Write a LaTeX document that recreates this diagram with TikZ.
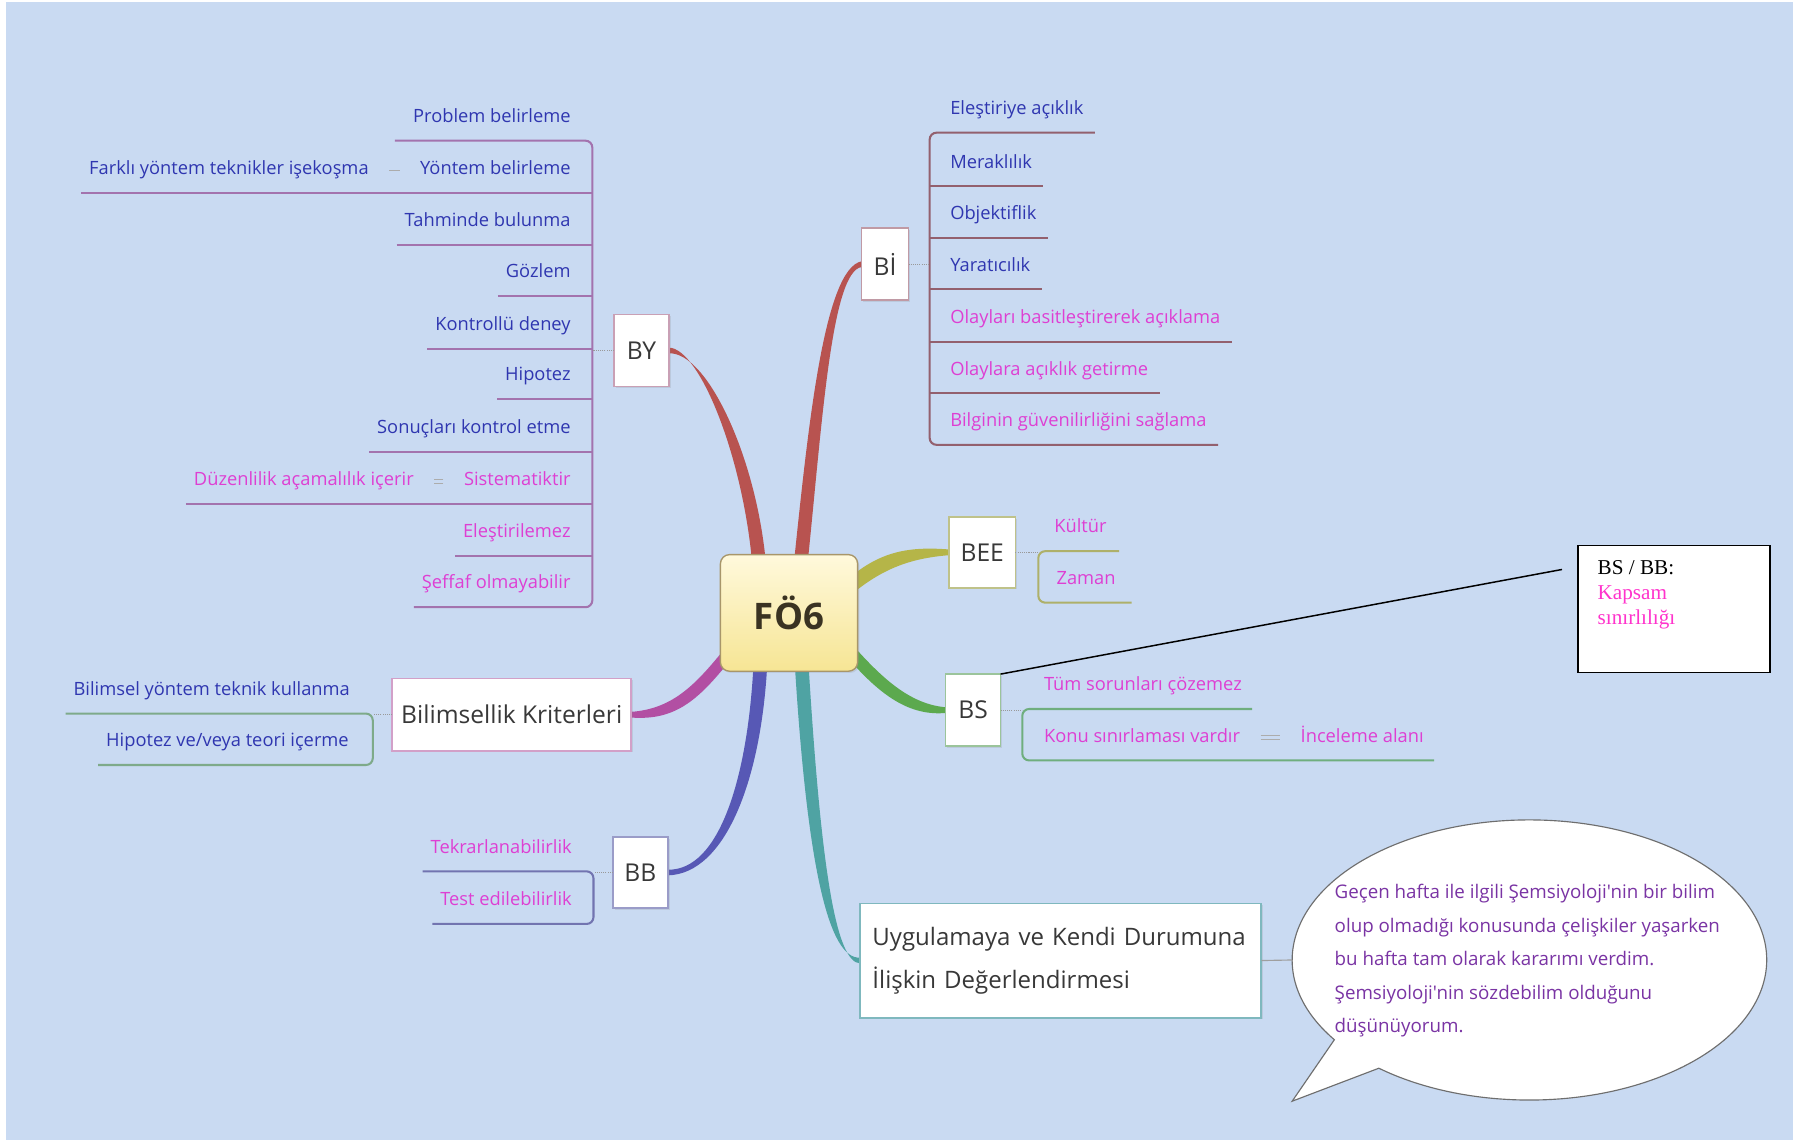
\documentclass[tikz,border=0pt]{standalone}
\usepackage{fontspec}
\usetikzlibrary{calc,shadows}
\newfontfamily\mmfont{Open Sans}
\newfontfamily\serifnote{Liberation Serif}

\definecolor{bgblue}{HTML}{C9DAF2}
\definecolor{tblue}{HTML}{2F36B0}
\definecolor{tmag}{HTML}{DE3FD3}
\definecolor{tpurp}{HTML}{7A34A4}
\definecolor{kmag}{HTML}{FF33CC}
\definecolor{tdark}{HTML}{383838}
% branch colours
\definecolor{limbRed}{HTML}{B85350}
\definecolor{limbOlive}{HTML}{B5B548}
\definecolor{limbGreen}{HTML}{5CA94E}
\definecolor{limbMag}{HTML}{B24FA3}
\definecolor{limbBlue}{HTML}{5758B5}
\definecolor{limbTeal}{HTML}{4FA3A3}
% underline colours
\definecolor{lnBY}{HTML}{A373AE}
\definecolor{lnBI}{HTML}{93606E}
\definecolor{lnBEE}{HTML}{AEB06A}
\definecolor{lnBS}{HTML}{6FAE7E}
\definecolor{lnBK}{HTML}{7EAA8A}
\definecolor{lnBB}{HTML}{7274B0}
% box borders
\definecolor{bxBY}{HTML}{C9A0B5}
\definecolor{bxBI}{HTML}{C09AA5}
\definecolor{bxBEE}{HTML}{BFC28A}
\definecolor{bxBS}{HTML}{9BC49B}
\definecolor{bxBK}{HTML}{D2A0C8}
\definecolor{bxBB}{HTML}{9A9CC8}
\definecolor{bxUY}{HTML}{7FB8BE}
\definecolor{foTop}{HTML}{FFF9DC}
\definecolor{foBot}{HTML}{F6E594}
\definecolor{foLine}{HTML}{A8966A}
\definecolor{foText}{HTML}{3A3322}
\definecolor{bubLine}{HTML}{6E6E6E}

\newcommand\leaffont{\mmfont\fontsize{16}{19}\selectfont}
\newcommand\topicfont{\mmfont\fontsize{21.5}{25}\selectfont}
\newcommand\uyfont{\mmfont\fontsize{21}{38}\selectfont}
\newcommand\fofont{\mmfont\bfseries\fontsize{32}{36}\selectfont}
\newcommand\bubfont{\mmfont\fontsize{16.4}{29.3}\selectfont}
\newcommand\notefont{\serifnote\fontsize{18.5}{22}\selectfont}

% tapered branch: colour, start, control 1, control 2, end, half width at start, half width at end
\newcommand\mmlimb[7]{%
  \fill[#1] ($(#2)+(#6)$) .. controls ($(#3)+(#6)$) and ($(#4)+0.5*(#6)+0.5*(#7)$) .. ($(#5)+(#7)$)
    -- ($(#5)-(#7)$) .. controls ($(#4)-0.5*(#6)-0.5*(#7)$) and ($(#3)-(#6)$) .. ($(#2)-(#6)$) -- cycle;}

\pgfdeclarelayer{canvasfill}
\pgfdeclarelayer{limbs}
\pgfsetlayers{canvasfill,limbs,main}

\tikzset{
  leafnode/.style={font=\leaffont, inner xsep=7pt, inner ysep=12.5pt,
    text height=11.5pt, text depth=3.5pt, outer sep=0pt},
  topicbox/.style={draw=#1, line width=1.4pt, fill=white, font=\topicfont,
    text=tdark, inner sep=0pt, outer sep=0pt,
    drop shadow={opacity=0.18, shadow xshift=1.5pt, shadow yshift=-1.5pt}},
  uline/.style={draw=#1, line width=1.8pt},
  dotlink/.style={draw=gray!80, line width=0.9pt, densely dotted},
  sibdash/.style={draw=gray!65, line width=0.8pt, shorten <=11pt, shorten >=11pt},
}

\begin{document}
\begin{tikzpicture}[x=1pt, y=-1pt]
\useasboundingbox (0,0) rectangle (1568,997);
\begin{pgfonlayer}{canvasfill}
\fill[white] (0,0) rectangle (1568,997);
\fill[bgblue] (5,2) rectangle (1568,997);
\end{pgfonlayer}

% ---------- topics ----------
\node[draw=foLine, line width=1.2pt, rounded corners=8pt, top color=foTop, bottom color=foBot,
      minimum width=120pt, minimum height=102pt, inner sep=0pt, outer sep=0pt,
      font=\fofont, text=foText,
      drop shadow={opacity=0.18, shadow xshift=1.5pt, shadow yshift=-1.5pt}] (fo) at (690,536) {FÖ6};
\node[topicbox=bxBY, minimum width=48pt, minimum height=63pt] (by) at (561,306.5) {BY};
\node[topicbox=bxBI, minimum width=41pt, minimum height=63pt] (bi) at (774,231) {Bİ};
\node[topicbox=bxBEE, minimum width=58pt, minimum height=62pt] (bee) at (859,483) {BEE};
\node[topicbox=bxBS, minimum width=48pt, minimum height=63pt] (bs) at (851,621) {BS};
\node[topicbox=bxBB, minimum width=48pt, minimum height=62pt] (bb) at (560,763) {BB};
\node[topicbox=bxBK, minimum width=209pt, minimum height=63pt] (bk) at (447.5,625) {Bilimsellik Kriterleri};
\node[topicbox=bxUY, minimum width=351pt, minimum height=100pt, text width=329pt,
      inner xsep=11pt, align=left, font=\uyfont] (uy) at (927.5,840)
      {Uygulamaya ve Kendi Durumuna\\İlişkin Değerlendirmesi};

% ---------- branches from the central topic (behind the boxes) ----------
\begin{pgfonlayer}{limbs}
\mmlimb{limbRed}{664,495}{656,400}{615,306}{by.east}{6,0}{0,2.5}
\mmlimb{limbRed}{700,495}{713,370}{724,236}{bi.west}{6,0}{0,2.5}
\mmlimb{limbOlive}{742,514}{770,490}{795,483}{bee.west}{0,8}{0,2.5}
\mmlimb{limbGreen}{742,568}{770,600}{795,621}{bs.west}{0,8}{0,2.5}
\mmlimb{limbMag}{638,570}{610,605}{590,625}{bk.east}{0,8}{0,2.5}
\mmlimb{limbBlue}{665,580}{660,680}{632,763}{bb.east}{6,0}{0,2.5}
\mmlimb{limbTeal}{701,580}{712,760}{728,840}{uy.west}{6,0}{0,2.5}
\end{pgfonlayer}

% ---------- BY ----------
\coordinate (byS) at (518,0);
\node[leafnode, text=tblue, anchor=south east] (y1) at (506,123) {Problem belirleme};
\node[leafnode, text=tblue, anchor=south east] (y2) at (506,169) {Yöntem belirleme};
\node[leafnode, text=tblue, anchor=east] (y2a) at ($(y2.west)+(-31,0)$) {Farklı yöntem teknikler işekoşma};
\node[leafnode, text=tblue, anchor=south east] (y3) at (506,214) {Tahminde bulunma};
\node[leafnode, text=tblue, anchor=south east] (y4) at (506,259) {Gözlem};
\node[leafnode, text=tblue, anchor=south east] (y5) at (506,305) {Kontrollü deney};
\node[leafnode, text=tblue, anchor=south east] (y6) at (506,349) {Hipotez};
\node[leafnode, text=tblue, anchor=south east] (y7) at (506,395) {Sonuçları kontrol etme};
\node[leafnode, text=tmag, anchor=south east] (y8) at (506,441) {Sistematiktir};
\node[leafnode, text=tmag, anchor=east] (y8a) at ($(y8.west)+(-30,0)$) {Düzenlilik açamalılık içerir};
\node[leafnode, text=tmag, anchor=south east] (y9) at (506,486) {Eleştirilemez};
\node[leafnode, text=tmag, anchor=south east] (y10) at (506,531) {Şeffaf olmayabilir};
\draw[uline=lnBY, rounded corners=6pt] ($(y1.south west)+(-9,0)$) -- (byS |- y1.south) -- (byS |- y10.south) -- (y10.south west);
\foreach \n in {y3,y4,y5,y6,y7,y9} \draw[uline=lnBY] (\n.south west) -- (byS |- \n.south);
\draw[uline=lnBY] (y2a.south west) -- (byS |- y2.south);
\draw[uline=lnBY] (y8a.south west) -- (byS |- y8.south);
\draw[dotlink] (by.west) -- (byS |- by.west);
\draw[sibdash] (y2.west) -- (y2a.east);
\draw[sibdash] ([yshift=1.5pt]y8.west) -- ([yshift=1.5pt]y8a.east);
\draw[sibdash] ([yshift=-1.5pt]y8.west) -- ([yshift=-1.5pt]y8a.east);

% ---------- BI ----------
\coordinate (biS) at (813,0);
\node[leafnode, text=tblue, anchor=south west] (i1) at (824,116) {Eleştiriye açıklık};
\node[leafnode, text=tblue, anchor=south west] (i2) at (824,163) {Meraklılık};
\node[leafnode, text=tblue, anchor=south west] (i3) at (824,208) {Objektiflik};
\node[leafnode, text=tblue, anchor=south west] (i4) at (824,253) {Yaratıcılık};
\node[leafnode, text=tmag, anchor=south west] (i5) at (824,299) {Olayları basitleştirerek açıklama};
\node[leafnode, text=tmag, anchor=south west] (i6) at (824,344) {Olaylara açıklık getirme};
\node[leafnode, text=tmag, anchor=south west] (i7) at (824,389) {Bilginin güvenilirliğini sağlama};
\draw[uline=lnBI, rounded corners=6pt] ($(i1.south east)+(3,0)$) -- (biS |- i1.south) -- (biS |- i7.south) -- ($(i7.south east)+(3,0)$);
\foreach \n in {i2,i3,i4,i5,i6} \draw[uline=lnBI] (biS |- \n.south) -- ($(\n.south east)+(3,0)$);
\draw[dotlink] (bi.east) -- (biS |- bi.east);

% ---------- BEE ----------
\coordinate (beeS) at (908,0);
\node[leafnode, text=tmag, anchor=south west] (e1) at (915,482) {Kültür};
\node[leafnode, text=tmag, anchor=south west] (e2) at (917,527) {Zaman};
\draw[uline=lnBEE, rounded corners=6pt] ($(e1.south east)+(4,0)$) -- (beeS |- e1.south) -- (beeS |- e2.south) -- ($(e2.south east)+(7,0)$);
\draw[dotlink] (bee.east) -- (beeS |- bee.east);

% ---------- BS ----------
\coordinate (bsS) at (894,0);
\node[leafnode, text=tmag, anchor=south west] (s1) at (906,620) {Tüm sorunları çözemez};
\node[leafnode, text=tmag, anchor=south west] (s2) at (906,665) {Konu sınırlaması vardır};
\node[leafnode, text=tmag, anchor=west] (s2a) at ($(s2.east)+(39,0)$) {İnceleme alanı};
\draw[uline=lnBS, rounded corners=6pt] ($(s1.south east)+(2,0)$) -- (bsS |- s1.south) -- (bsS |- s2.south) -- ($(s2a.south east)+(2,0)$);
\draw[dotlink] (bs.east) -- (bsS |- bs.east);
\draw[sibdash] ([yshift=1.5pt]s2.east) -- ([yshift=1.5pt]s2a.west);
\draw[sibdash] ([yshift=-1.5pt]s2.east) -- ([yshift=-1.5pt]s2a.west);

% ---------- Bilimsellik Kriterleri ----------
\coordinate (bkS) at (326,0);
\node[leafnode, text=tblue, anchor=south east] (k1) at (313,624) {Bilimsel yöntem teknik kullanma};
\node[leafnode, text=tblue, anchor=south east] (k2) at (312,669) {Hipotez ve/veya teori içerme};
\draw[uline=lnBK, rounded corners=6pt] (k1.south west) -- (bkS |- k1.south) -- (bkS |- k2.south) -- (k2.south west);
\draw[dotlink] (bk.west) -- (bkS |- bk.west);

% ---------- BB ----------
\coordinate (bbS) at (519,0);
\node[leafnode, text=tmag, anchor=south east] (t1) at (507,762) {Tekrarlanabilirlik};
\node[leafnode, text=tmag, anchor=south east] (t2) at (507,808) {Test edilebilirlik};
\draw[uline=lnBB, rounded corners=6pt] (t1.south west) -- (bbS |- t1.south) -- (bbS |- t2.south) -- (t2.south west);
\draw[dotlink] (bb.west) -- (bbS |- bb.west);

% ---------- note box ----------
\node[draw=black, line width=1.3pt, fill=white, minimum width=168pt, minimum height=111pt,
      inner sep=0pt, outer sep=0pt] (cb) at (1464,532.5) {};
\node[anchor=north west, align=left, font=\notefont, inner sep=0pt] (cbt) at ($(cb.north west)+(17,13)$)
  {BS / BB:\\\textcolor{kmag}{Kapsam}\\\textcolor{kmag}{sınırlılığı}};
\coordinate (cbend) at (1366,498);
\draw[line width=1.3pt] (bs.north east) -- (cbend);

% ---------- speech bubble ----------
\coordinate (bc) at (1337.5,839.5);
\coordinate (btip) at (1130,963);
\coordinate (bw) at (1130,839.5);
\draw[draw=bubLine, line width=1pt, fill=white]
  ($(bc)+(145.3:207.5 and 122.5)$) arc[start angle=145.3, end angle=489.4, x radius=207.5, y radius=122.5]
  -- (btip) -- cycle;
\draw[draw=gray!75, line width=1pt] (uy.east) -- (bw);
\node[anchor=north west, align=left, font=\bubfont, text=tpurp, inner sep=0pt] (btx) at (1167,773)
  {Geçen hafta ile ilgili Şemsiyoloji'nin bir bilim\\
   olup olmadığı konusunda çelişkiler yaşarken\\
   bu hafta tam olarak kararımı verdim.\\
   Şemsiyoloji'nin sözdebilim olduğunu\\
   düşünüyorum.};
\end{tikzpicture}
\end{document}
